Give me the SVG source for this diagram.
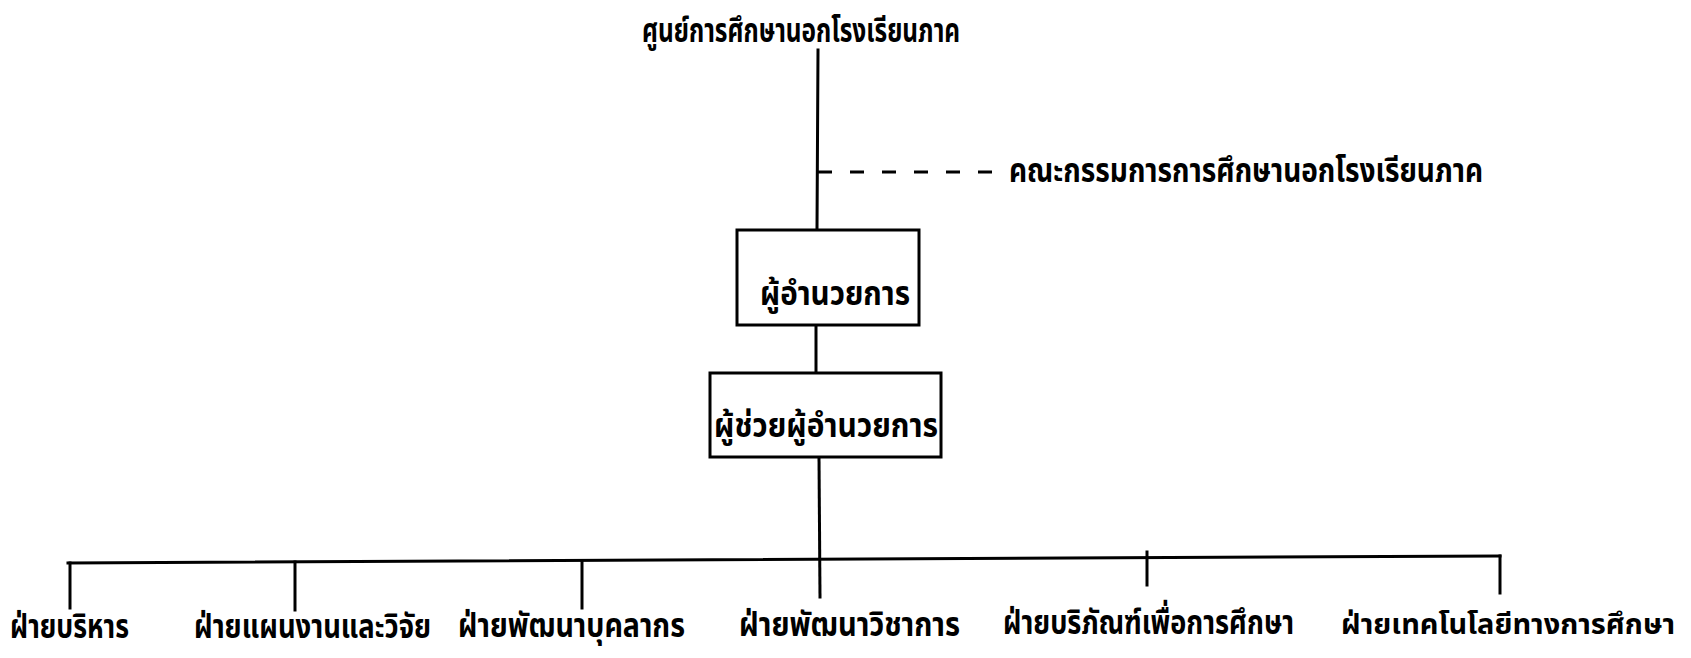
<svg xmlns="http://www.w3.org/2000/svg" width="1691" height="658" viewBox="0 0 1691 658">
<style>
.t{font-family:"Noto Sans Thai","Noto Sans","DejaVu Sans",sans-serif;font-size:33px;fill:#000;font-weight:bold}
.s{font-size:29px}
.ln{stroke:#000;stroke-width:3;fill:none;stroke-linecap:square}
.bx{stroke:#000;stroke-width:3;fill:#fff}
.dash{stroke:#000;stroke-width:3;fill:none;stroke-dasharray:14 18}
</style>
<rect width="1691" height="658" fill="#fff"/>
<g id="connectors">
<line class="ln" x1="818" y1="50" x2="817" y2="230"/>
<line class="dash" x1="818" y1="172" x2="994" y2="172"/>
<line class="ln" x1="816" y1="325" x2="816" y2="373"/>
<line class="ln" x1="819" y1="457" x2="820" y2="597"/>
<line class="ln" x1="68" y1="563" x2="1500" y2="556"/>
<line class="ln" x1="70" y1="563" x2="70" y2="608"/>
<line class="ln" x1="295" y1="562" x2="295" y2="610"/>
<line class="ln" x1="582" y1="561" x2="582" y2="608"/>
<line class="ln" x1="1147" y1="552" x2="1147" y2="585"/>
<line class="ln" x1="1500" y1="556" x2="1500" y2="593"/>
</g>
<g id="center">
<text class="t" x="642" y="42" textLength="318" lengthAdjust="spacingAndGlyphs">ศูนย์การศึกษานอกโรงเรียนภาค</text>
</g>
<g id="committee">
<text class="t" x="1009" y="182" textLength="474" lengthAdjust="spacingAndGlyphs">คณะกรรมการการศึกษานอกโรงเรียนภาค</text>
</g>
<g id="director">
<rect class="bx" x="737" y="230" width="182" height="95"/>
<text class="t" x="760" y="305" textLength="150" lengthAdjust="spacingAndGlyphs">ผู้อำนวยการ</text>
</g>
<g id="assistant">
<rect class="bx" x="710" y="373" width="231" height="84"/>
<text class="t" x="714" y="437" textLength="224" lengthAdjust="spacingAndGlyphs">ผู้ช่วยผู้อำนวยการ</text>
</g>
<g id="admin">
<text class="t" x="10" y="638" textLength="119" lengthAdjust="spacingAndGlyphs">ฝ่ายบริหาร</text>
</g>
<g id="planning">
<text class="t" x="194" y="638" textLength="237" lengthAdjust="spacingAndGlyphs">ฝ่ายแผนงานและวิจัย</text>
</g>
<g id="personnel">
<text class="t" x="458" y="637" textLength="227" lengthAdjust="spacingAndGlyphs">ฝ่ายพัฒนาบุคลากร</text>
</g>
<g id="academic">
<text class="t" x="739" y="636" textLength="221" lengthAdjust="spacingAndGlyphs">ฝ่ายพัฒนาวิชาการ</text>
</g>
<g id="equipment">
<text class="t" x="1003" y="634" textLength="291" lengthAdjust="spacingAndGlyphs">ฝ่ายบริภัณฑ์เพื่อการศึกษา</text>
</g>
<g id="technology">
<text class="t s" x="1341" y="634" textLength="334" lengthAdjust="spacingAndGlyphs">ฝ่ายเทคโนโลยีทางการศึกษา</text>
</g>
</svg>
